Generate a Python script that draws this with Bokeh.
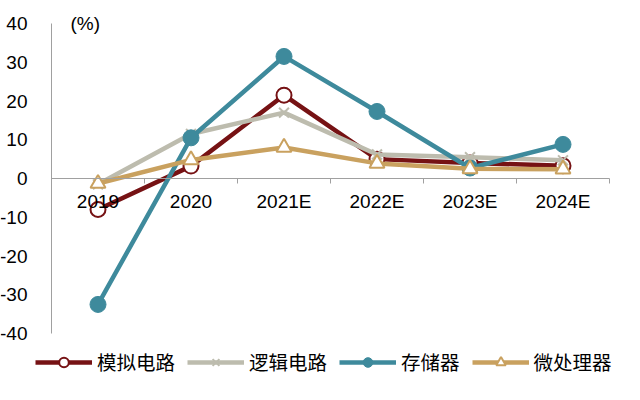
from bokeh.plotting import figure
from bokeh.models import LinearAxis, FixedTicker, Range1d, Legend, LegendItem, Label
from bokeh.embed import file_html
from bokeh.resources import INLINE

categories = ["2019", "2020", "2021E", "2022E", "2023E", "2024E"]
analog = [-8.0, 3.2, 21.5, 5.0, 4.0, 3.3]
logic = [-1.5, 11.5, 17.0, 6.2, 5.5, 4.7]
memory = [-32.5, 10.5, 31.5, 17.3, 2.7, 8.8]
micro = [-1.3, 4.8, 8.0, 3.9, 2.5, 2.4]
y_ticks = [-40, -30, -20, -10, 0, 10, 20, 30, 40]

RED = "#761214"
GREY = "#BDBCAE"
TEAL = "#3E8A9C"
TAN = "#C9A15F"

x = list(range(len(categories)))
ppu_y = 310 / 80.0   # pixels per y unit
ppu_x = 558 / 6.0    # pixels per category

p = figure(width=640, height=400, output_backend="svg", toolbar_location=None,
           x_range=Range1d(-0.5 - 51 / ppu_x, len(categories) - 0.5 + 31 / ppu_x),
           y_range=Range1d(-40 - 67 / ppu_y, 40 + 23 / ppu_y),
           min_border=0, x_axis_type=None, y_axis_type=None)
p.outline_line_color = None
p.xgrid.visible = False
p.ygrid.visible = False

# y axis at the left category boundary
yax = LinearAxis(ticker=FixedTicker(ticks=y_ticks), bounds=(-40, 40), fixed_location=-0.5)
yax.axis_line_color = "#A0A0A0"
yax.axis_line_width = 1
yax.major_tick_line_color = None
yax.minor_tick_line_color = None
yax.major_label_overrides = {t: str(t) for t in y_ticks}
yax.major_label_text_font = "Liberation Sans"
yax.major_label_text_font_size = "19px"
yax.major_label_text_color = "black"
yax.major_label_standoff = 18
p.add_layout(yax, "left")

# x axis line at y=0 with ticks at category boundaries
bounds = [i - 0.5 for i in range(len(categories) + 1)]
xax = LinearAxis(ticker=FixedTicker(ticks=x, minor_ticks=bounds), fixed_location=0,
                 bounds=(-0.5, len(categories) - 0.5))
xax.axis_line_color = "#A0A0A0"
xax.major_tick_line_color = None
xax.minor_tick_line_color = "#A0A0A0"
xax.minor_tick_in = 0
xax.minor_tick_out = 5
xax.major_label_overrides = {i: c for i, c in enumerate(categories)}
xax.major_label_text_font = "Liberation Sans"
xax.major_label_text_font_size = "19px"
xax.major_label_text_color = "black"
xax.major_label_standoff = 6
p.add_layout(xax, "below")

r1 = p.line(x, analog, line_color=RED, line_width=4.5)
m1 = p.scatter(x, analog, marker="circle", size=15, fill_color="white", line_color=RED, line_width=2)
r2 = p.line(x, logic, line_color=GREY, line_width=4.5)
m2 = p.scatter(x, logic, marker="x", size=14, line_color=GREY, line_width=2)
r3 = p.line(x, memory, line_color=TEAL, line_width=4.5)
m3 = p.scatter(x, memory, marker="circle", size=16, fill_color=TEAL, line_color=TEAL, line_width=1)
r4 = p.line(x, micro, line_color=TAN, line_width=4.5)
m4 = p.scatter(x, micro, marker="triangle", size=15, fill_color="white", line_color=TAN, line_width=2)

p.add_layout(Label(x=-0.5, y=40, x_offset=19, text="(%)", text_font="Liberation Sans",
                   text_font_size="19px", text_baseline="middle", text_color="black"))

legend = Legend(items=[
    LegendItem(label="模拟电路", renderers=[r1, m1]),
    LegendItem(label="逻辑电路", renderers=[r2, m2]),
    LegendItem(label="存储器", renderers=[r3, m3]),
    LegendItem(label="微处理器", renderers=[r4, m4]),
], orientation="horizontal")
legend.label_text_font = "Noto Sans CJK SC"
legend.label_text_font_size = "19.5px"
legend.label_text_color = "black"
legend.glyph_width = 57
legend.glyph_height = 24
legend.label_standoff = 5
legend.spacing = 12
legend.padding = 0
legend.margin = 0
legend.border_line_color = None
legend.background_fill_alpha = 0
legend.location = (35, 24)
p.add_layout(legend)

open("out.html", "w").write(file_html(p, INLINE))
